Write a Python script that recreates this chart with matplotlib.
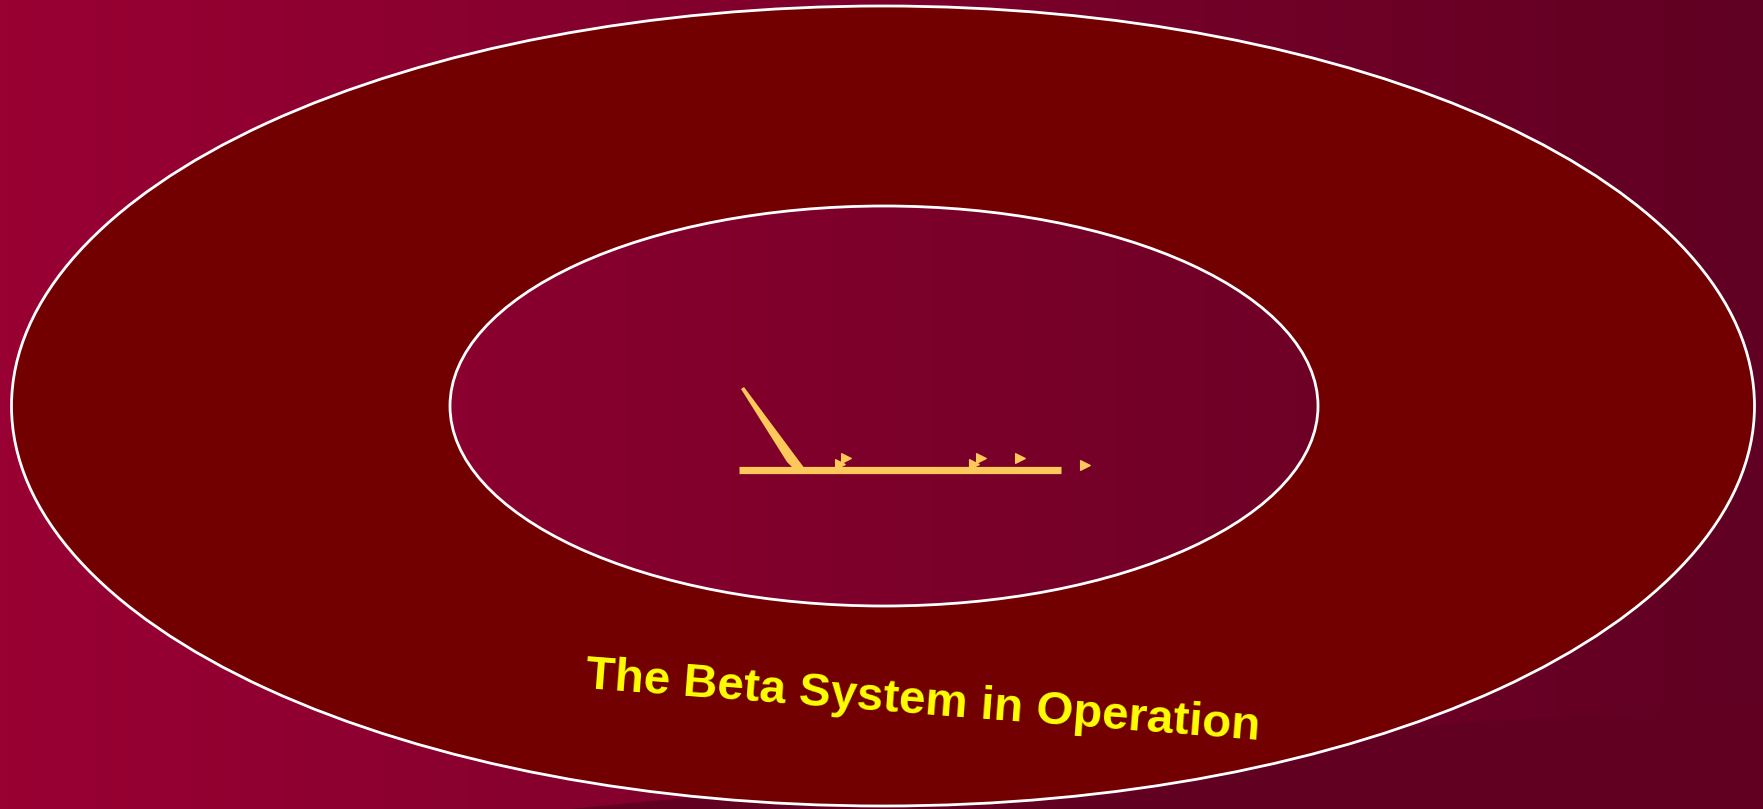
import numpy as np
import matplotlib
matplotlib.use("Agg")
import matplotlib.pyplot as plt
from matplotlib.patches import Ellipse, Polygon
from matplotlib.colors import LinearSegmentedColormap

W, H = 1763, 809

# --- content ---
title = "The Beta System in Operation"
bg_left, bg_right = "#990033", "#600022"
ring_fill = "#720000"
mark_color = "#FFC85A"

outer_ellipse = dict(cx=883, cy=406, w=1743, h=800)
inner_ellipse = dict(cx=884, cy=406, w=868, h=400)

bar_x = [739, 1061]
bar_y = [469.5, 469.5]
pointer_xy = [(741, 389), (744, 387), (808, 473), (797, 472), (787, 462)]
arrow_x = [846, 839.5, 981, 973.5, 1020, 1084.5]
arrow_y = [458, 464, 458, 464, 458, 464.5]
shade_xy = [(570, 809), (1467, 722), (1763, 708), (1763, 809)]

fig = plt.figure(figsize=(W / 100, H / 100), dpi=100)
ax = fig.add_axes([0, 0, 1, 1])
ax.set_xlim(0, W)
ax.set_ylim(H, 0)
ax.axis("off")

cmap = LinearSegmentedColormap.from_list("bg", [bg_left, bg_right])
grad = np.tile(np.linspace(0, 1, 512), (2, 1))
ax.imshow(grad, cmap=cmap, extent=[0, W, H, 0], aspect="auto", zorder=0)
ax.add_patch(Polygon(shade_xy, closed=True, facecolor="#620022", edgecolor="none", zorder=0.5))

outer = Ellipse((outer_ellipse["cx"], outer_ellipse["cy"]), outer_ellipse["w"], outer_ellipse["h"],
                facecolor=ring_fill, edgecolor="white", lw=2.0, zorder=1)
ax.add_patch(outer)

inner = Ellipse((inner_ellipse["cx"], inner_ellipse["cy"]), inner_ellipse["w"], inner_ellipse["h"],
                facecolor="none", edgecolor="none", zorder=2)
ax.add_patch(inner)
im2 = ax.imshow(grad, cmap=cmap, extent=[0, W, H, 0], aspect="auto", zorder=2)
im2.set_clip_path(inner)
ax.add_patch(Ellipse((inner_ellipse["cx"], inner_ellipse["cy"]), inner_ellipse["w"], inner_ellipse["h"],
                     facecolor="none", edgecolor="white", lw=2.0, zorder=3))

ax.plot(bar_x, bar_y, color=mark_color, lw=5.2, solid_capstyle="butt", zorder=4)
ax.add_patch(Polygon(pointer_xy, closed=True, facecolor=mark_color, edgecolor="none", zorder=4))
ax.plot(arrow_x, arrow_y, linestyle="none", marker=">", ms=7.6, color=mark_color,
        markeredgewidth=0.8, markeredgecolor=mark_color, zorder=5)

ax.text(585, 688, title, fontsize=34.2, fontweight="bold", family=["Liberation Sans", "DejaVu Sans"],
        color="#FFFF00", ha="left", va="baseline", rotation=-4.4, rotation_mode="anchor", zorder=6)

fig.savefig("out.png", dpi=100)
